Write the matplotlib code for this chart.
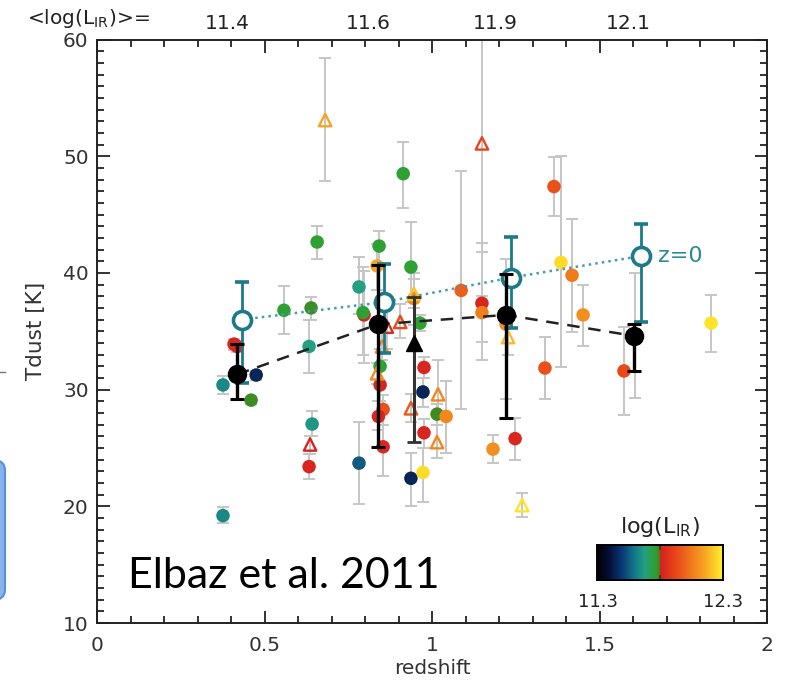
import numpy as np
import matplotlib
matplotlib.use('Agg')
import matplotlib.pyplot as plt
from matplotlib.colors import LinearSegmentedColormap, Normalize
from matplotlib.patches import FancyBboxPatch
from matplotlib.ticker import MultipleLocator
from matplotlib.lines import Line2D

plt.rcParams['font.family'] = ['DejaVu Sans']

# ---------------- data ----------------
# individual galaxies, filled circles
gal_z = [0.376, 0.376, 0.409, 0.418, 0.460, 0.475, 0.558, 0.639, 0.633, 0.642,
         0.633, 0.657, 0.782, 0.782, 0.797, 0.794, 0.842, 0.836, 0.845, 0.845,
         0.854, 0.840, 0.854, 0.914, 0.937, 0.946, 0.964, 0.976, 0.973, 0.976,
         0.937, 0.973, 1.015, 1.042, 1.087, 1.149, 1.149, 1.182, 1.221, 1.248,
         1.337, 1.364, 1.385, 1.418, 1.451, 1.573, 1.605, 1.833]
gal_T = [30.4, 19.2, 33.9, 33.7, 29.1, 31.25, 36.8, 37.0, 33.7, 27.05,
         23.4, 42.65, 23.7, 38.8, 36.4, 36.6, 42.3, 40.6, 32.0, 30.4,
         28.3, 27.7, 25.1, 48.5, 40.5, 37.8, 35.7, 31.9, 29.8, 26.3,
         22.4, 22.9, 27.9, 27.7, 38.5, 37.4, 36.6, 24.9, 35.6, 25.8,
         31.85, 47.4, 40.9, 39.8, 36.4, 31.6, 34.6, 35.7]
gal_lo = [29.6, 18.6, 33.4, 33.2, 28.8, 30.8, 34.8, 36.0, 31.4, 26.0,
          22.3, 41.2, 20.2, 36.5, 32.3, 33.0, 40.5, 38.5, 30.5, 29.0,
          27.0, 26.5, 22.6, 45.6, 37.5, 35.5, 35.0, 31.0, 28.5, 25.0,
          20.0, 20.4, 27.0, 24.6, 28.3, 34.1, 32.5, 23.7, 29.2, 24.0,
          29.2, 44.9, 31.9, 34.9, 33.7, 27.8, 29.3, 33.2]
gal_hi = [31.2, 19.9, 34.3, 34.2, 29.4, 31.6, 38.9, 37.9, 36.0, 28.2,
          24.5, 44.0, 27.2, 41.4, 40.2, 40.5, 43.6, 42.5, 33.5, 31.8,
          29.5, 29.0, 27.0, 51.2, 44.4, 40.0, 36.4, 32.8, 31.0, 27.5,
          24.6, 25.0, 28.8, 30.7, 48.7, 42.6, 41.8, 26.1, 41.2, 27.6,
          34.5, 49.9, 50.0, 44.6, 39.0, 35.4, 40.0, 38.1]
gal_lir = [11.63, 11.63, 11.82, 11.83, 11.79, 11.45, 11.76, 11.785, 11.68, 11.66,
           11.82, 11.76, 11.55, 11.68, 11.82, 11.76, 11.76, 12.15, 11.76, 11.82,
           11.95, 11.82, 11.83, 11.76, 11.76, 12.08, 11.76, 11.82, 11.45, 11.82,
           11.45, 12.26, 11.795, 12.08, 11.98, 11.82, 12.06, 12.1, 12.1, 11.83,
           11.95, 11.95, 12.26, 12.05, 12.1, 11.93, 12.05, 12.27]

# individual galaxies, open triangles
tri_z = [0.681, 0.636, 0.865, 0.905, 0.851, 0.836, 0.937, 0.946, 1.018, 1.015,
         1.149, 1.227, 1.269]
tri_T = [53.1, 25.3, 35.4, 35.8, 33.7, 31.4, 28.4, 38.2, 29.6, 25.5,
         51.1, 34.5, 20.1]
tri_lo = [47.9, 24.5, 33.5, 34.4, 32.5, 30.5, 27.2, 37.0, 28.0, 24.1,
          38.0, 33.0, 19.1]
tri_hi = [58.4, 26.0, 37.0, 37.3, 35.0, 32.3, 29.6, 39.5, 32.5, 27.0,
          66.0, 36.0, 21.1]
tri_lir = [12.15, 11.82, 11.84, 11.93, 12.08, 12.1, 11.97, 12.22, 12.08, 12.08,
           11.92, 12.2, 12.27]

# median values per redshift bin (black)
bin_z = [0.418, 0.839, 1.221, 1.603]
bin_T = [31.3, 35.6, 36.4, 34.6]
bin_lo = [29.2, 25.1, 27.6, 31.6]
bin_hi = [33.9, 40.7, 39.9, 35.6]

# black triangle
btri_z = [0.946]
btri_T = [34.0]
btri_lo = [25.5]
btri_hi = [37.9]

# z=0 equivalents (open teal circles)
z0_z = [0.433, 0.857, 1.236, 1.624]
z0_T = [36.0, 37.5, 39.6, 41.45]
z0_lo = [30.6, 33.1, 35.3, 35.8]
z0_hi = [39.2, 40.8, 43.1, 44.2]

# mean log(LIR) labels per bin (top)
top_labels = ['11.4', '11.6', '11.9', '12.1']
top_label_z = [0.39, 0.81, 1.19, 1.585]

cbar_min, cbar_max = 11.3, 12.3

# ---------------- colormap ----------------
cmap = LinearSegmentedColormap.from_list('lir', [
    (0.00, '#000000'), (0.10, '#06103a'), (0.20, '#0a3a78'), (0.30, '#137a8a'),
    (0.38, '#23a082'), (0.46, '#2ea033'), (0.495, '#3f8a22'), (0.505, '#d42020'),
    (0.62, '#e8441a'), (0.75, '#f07a1c'), (0.88, '#f8b025'), (1.00, '#fff22a')])
norm = Normalize(cbar_min, cbar_max)

teal = '#1c7a8a'
gray = '#c6c6c6'
txt = '#333333'

fig = plt.figure(figsize=(7.85, 6.85), dpi=100)
ax = fig.add_axes([0.1236, 0.0905, 0.8535, 0.8518])

def err(v, lo, hi):
    v, lo, hi = map(np.asarray, (v, lo, hi))
    return [v - lo, hi - v]

ax.errorbar(gal_z, gal_T, yerr=err(gal_T, gal_lo, gal_hi), fmt='none',
            ecolor=gray, elinewidth=1.4, capsize=4.5, capthick=1.4, zorder=1)
ax.errorbar(tri_z, tri_T, yerr=err(tri_T, tri_lo, tri_hi), fmt='none',
            ecolor=gray, elinewidth=1.4, capsize=4.5, capthick=1.4, zorder=1)

ax.scatter(gal_z, gal_T, c=gal_lir, cmap=cmap, norm=norm, s=95,
           edgecolors='none', zorder=3)
ax.scatter(tri_z, tri_T, marker='^', facecolors='none',
           edgecolors=cmap(norm(np.array(tri_lir))), s=80, linewidths=1.7,
           zorder=3)

# z=0 teal
ax.plot(z0_z, z0_T, ls=':', color='#4a9aaa', lw=1.8, zorder=4)
ax.errorbar(z0_z, z0_T, yerr=err(z0_T, z0_lo, z0_hi), fmt='o', mfc='white',
            mec=teal, mew=2.6, ms=13, ecolor=teal, elinewidth=2, capsize=5,
            capthick=2, zorder=5)
ax.text(1.675, z0_T[-1], 'z=0', color='#2a8a96', fontsize=16, va='center',
        ha='left', zorder=6)

# black medians
ax.plot(bin_z, bin_T, ls=(0, (5, 3.5)), color='#222222', lw=1.8, zorder=6)
ax.errorbar(btri_z, btri_T, yerr=err(btri_T, btri_lo, btri_hi), fmt='^',
            color='black', ms=11, ecolor='#333333', elinewidth=2.2, capsize=5,
            capthick=2, zorder=6)
ax.errorbar(bin_z, bin_T, yerr=err(bin_T, bin_lo, bin_hi), fmt='o',
            color='black', ms=13, ecolor='black', elinewidth=2.4, capsize=5,
            capthick=2.2, zorder=7)

ax.set_xlim(0, 2)
ax.set_ylim(10, 60)
ax.xaxis.set_major_locator(MultipleLocator(0.5))
ax.xaxis.set_minor_locator(MultipleLocator(0.1))
ax.yaxis.set_major_locator(MultipleLocator(10))
ax.yaxis.set_minor_locator(MultipleLocator(1))
ax.tick_params(which='both', direction='in', top=True, right=True,
               color='#222222', width=1.3, labelcolor=txt, labelsize=14.5)
ax.tick_params(which='major', length=9)
ax.tick_params(which='minor', length=5)
ax.tick_params(axis='x', pad=9)
ax.tick_params(axis='y', pad=6)
ax.set_xticks([0, 0.5, 1, 1.5, 2])
ax.set_xticklabels(['0', '0.5', '1', '1.5', '2'])
for s in ax.spines.values():
    s.set_linewidth(1.4)
    s.set_color('#222222')

ax.set_xlabel('redshift', fontsize=14.5, color=txt, labelpad=3)
ax.set_ylabel('Tdust [K]', fontsize=15.5, color=txt, labelpad=12)

# top labels
for lab, zz in zip(top_labels, top_label_z):
    ax.text(zz, 1.012, lab, transform=ax.get_xaxis_transform(), ha='center',
            va='bottom', fontsize=14.5, color='#222222')
fig.text(27 / 785, 1 - 19 / 685, '<log(L$_{\\rm IR}$)>=', ha='left',
         va='center', fontsize=14.5, color='#222222')

ax.text(0.092, 13.0, 'Elbaz et al. 2011', fontsize=31, color='black',
        ha='left', va='baseline', zorder=8, family=['Lato', 'DejaVu Sans'])

# colorbar inset
cax = fig.add_axes([597 / 785, 1 - 580 / 685, 126 / 785, 35 / 685])
grad = np.linspace(cbar_min, cbar_max, 256)[None, :]
cax.imshow(grad, aspect='auto', cmap=cmap, norm=norm,
           extent=[cbar_min, cbar_max, 0, 1])
cax.set_xticks([])
cax.set_yticks([])
for s in cax.spines.values():
    s.set_linewidth(1.4)
cax.plot([11.8, 11.8], [0, 0.12], color='#333333', lw=1.2)
cax.plot([11.8, 11.8], [0.88, 1], color='#333333', lw=1.2)
fig.text(598 / 785, 1 - 602 / 685, '11.3', ha='center', va='center',
         fontsize=13, color='#222222')
fig.text(723 / 785, 1 - 602 / 685, '12.3', ha='center', va='center',
         fontsize=13, color='#222222')
fig.text(660 / 785, 1 - 527 / 685, 'log(L$_{\\rm IR}$)', ha='center',
         va='center', fontsize=16, color='#222222')

# slide decorations at left edge
box = FancyBboxPatch((-40 / 785, 1 - 600 / 685), 45 / 785, 140 / 685,
                     boxstyle='round,pad=0,rounding_size=0.015',
                     transform=fig.transFigure, facecolor='#86b3ee',
                     edgecolor='#5a8fd8', lw=1.5, clip_on=False)
fig.patches.append(box)
fig.lines.append(Line2D([0, 5 / 785], [1 - 372 / 685, 1 - 372 / 685],
                        transform=fig.transFigure, color='#777777', lw=1))

fig.savefig('out.png', dpi=100)
